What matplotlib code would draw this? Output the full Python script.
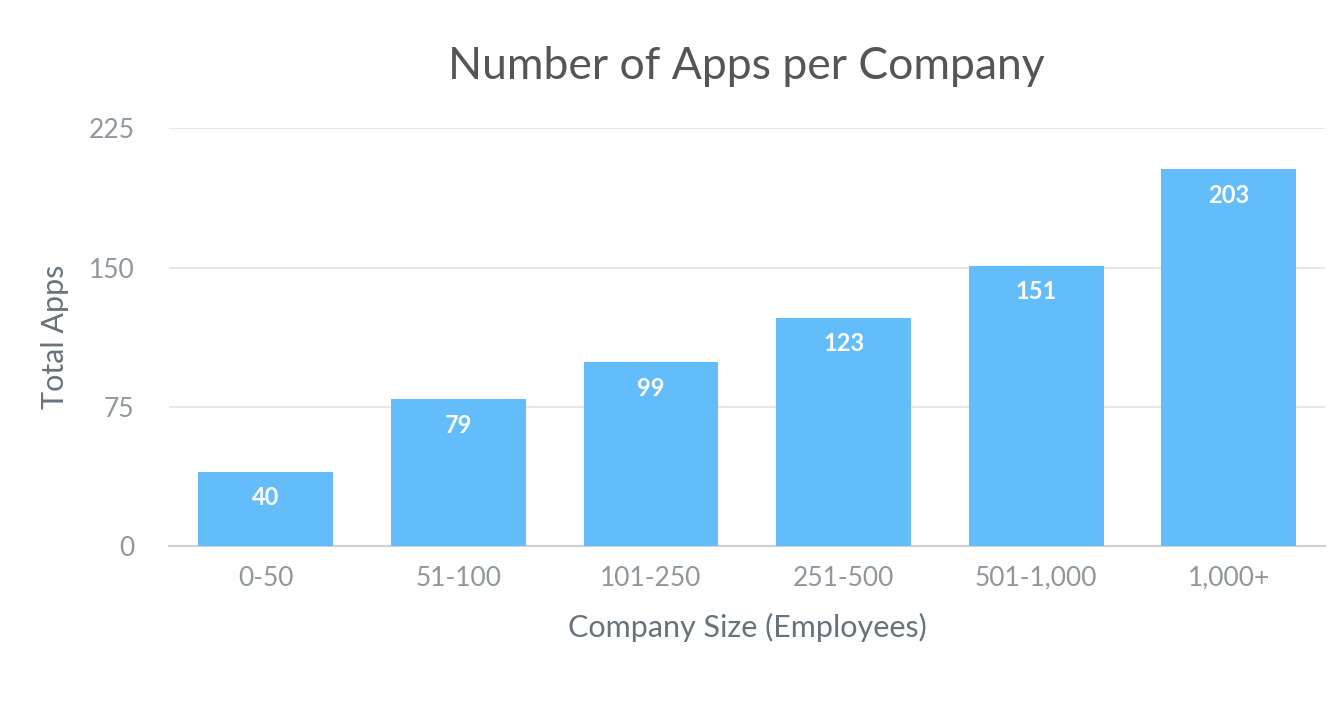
import matplotlib
matplotlib.use("Agg")
import matplotlib.pyplot as plt
from matplotlib.patches import FancyBboxPatch

categories = ["0-50", "51-100", "101-250", "251-500", "501-1,000", "1,000+"]
values = [40, 79, 99, 123, 151, 203]
yticks = [0, 75, 150, 225]

plt.rcParams["font.family"] = "Lato"
fig = plt.figure(figsize=(13.44, 7.04), dpi=100)
ax = fig.add_axes([0.126, 0.224, 0.86, 0.594])
x = list(range(len(categories)))
bars = ax.bar(x, values, width=0.70, color="#64BDFB", zorder=3)
for b, v in zip(bars, values):
    ax.text(b.get_x() + b.get_width() / 2, v - 14, str(v), ha="center", va="center",
            color="white", fontsize=17, fontweight="bold", zorder=4)
ax.set_xlim(-0.5, 5.5)
ax.set_ylim(0, 225)
ax.set_yticks(yticks)
ax.set_xticks(x)
ax.set_xticklabels(categories)
ax.grid(axis="y", color="#e3e3e3", linewidth=1.2, zorder=0)
for s in ["top", "right", "left"]:
    ax.spines[s].set_visible(False)
ax.spines["bottom"].set_color("#d0d0d0")
ax.spines["bottom"].set_linewidth(1.5)
ax.tick_params(axis="both", length=0, labelsize=19, labelcolor="#8f969d")
ax.tick_params(axis="x", pad=14)
ax.tick_params(axis="y", pad=25)
ax.set_ylabel("Total Apps", fontsize=22, color="#66727c", labelpad=14)
ax.set_xlabel("Company Size (Employees)", fontsize=22, color="#66727c", labelpad=16)
fig.text(0.555, 0.905, "Number of Apps per Company", ha="center", va="center",
         fontsize=32, color="#555555")
fig.savefig("out.png", dpi=100)
